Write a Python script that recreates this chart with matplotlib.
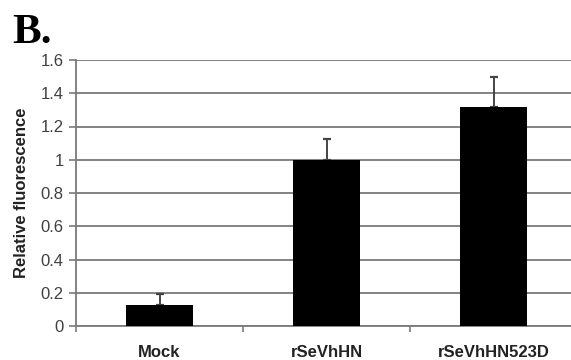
import matplotlib
matplotlib.use('Agg')
import matplotlib.pyplot as plt

categories = ['Mock', 'rSeVhHN', 'rSeVhHN523D']
values = [0.126, 1.0, 1.32]
errors = [0.066, 0.123, 0.18]
yticks = [0, 0.2, 0.4, 0.6, 0.8, 1, 1.2, 1.4, 1.6]
ytick_labels = ['0', '0.2', '0.4', '0.6', '0.8', '1', '1.2', '1.4', '1.6']

plt.rcParams['font.family'] = ['Liberation Sans', 'DejaVu Sans']
grey = '#7a7a7a'

fig = plt.figure(figsize=(5.71, 3.6), dpi=100)
ax = fig.add_axes([76 / 571, 34 / 360, 501 / 571, 266 / 360])

x = list(range(len(categories)))
ax.bar(x, values, width=0.4, color='black', zorder=3)
ax.errorbar(x, values, yerr=[[0] * len(errors), errors], fmt='none',
            ecolor='#444444', elinewidth=1.4, capsize=3, capthick=1.6, zorder=2)

ax.set_xlim(-0.5, 2.5)
ax.set_ylim(0, 1.6)
ax.set_yticks(yticks)
ax.set_yticklabels(ytick_labels, fontsize=12, color='#404040')
ax.yaxis.grid(True, color=grey, linewidth=1.3)
ax.set_axisbelow(True)

ax.set_xticks([-0.5, 0.5, 1.5, 2.5])
ax.set_xticklabels([])
ax.set_xticks(x, minor=True)
ax.set_xticklabels(categories, minor=True, fontsize=12, fontweight='bold', color='#222222')
ax.tick_params(axis='x', which='minor', length=0, pad=14)
ax.tick_params(axis='x', which='major', length=4, color=grey, width=1.2)
ax.tick_params(axis='y', length=5, color=grey, width=1.2, pad=4)

for s in ['top', 'right']:
    ax.spines[s].set_visible(False)
for s in ['left', 'bottom']:
    ax.spines[s].set_color(grey)
    ax.spines[s].set_linewidth(1.3)

ax.set_ylabel('Relative fluorescence', fontsize=12, fontweight='bold', color='#222222', labelpad=8)

fig.text(12 / 571, 1 - 43 / 360, 'B.', fontsize=31, fontweight='bold',
         family=['Liberation Serif', 'DejaVu Serif'])

fig.savefig('out.png', dpi=100)
